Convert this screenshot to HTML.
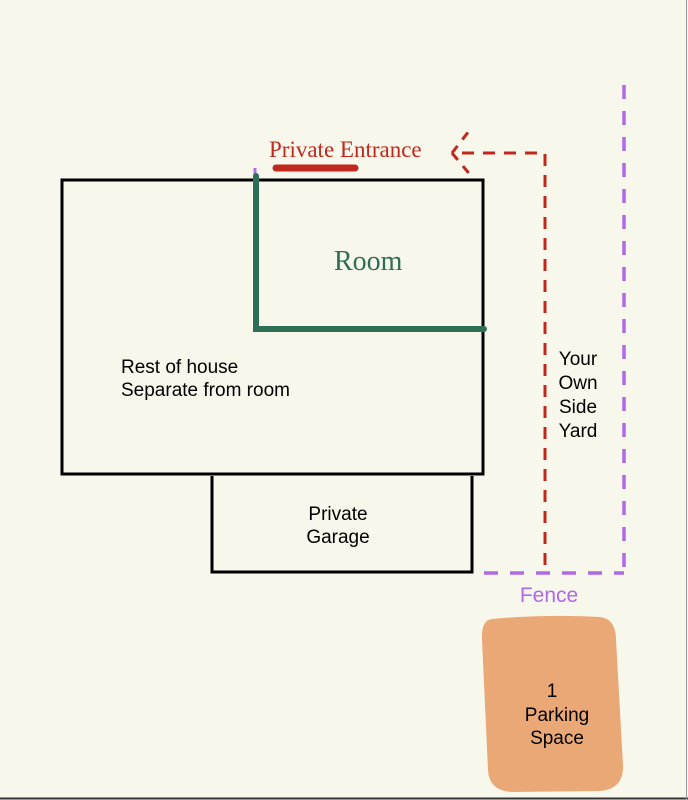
<!DOCTYPE html>
<html><head><style>
html,body{margin:0;padding:0;background:#f8f7ec;}
body{width:688px;height:800px;overflow:hidden;position:relative;}
svg{position:absolute;left:0;top:0;}
</style></head><body>
<svg width="688" height="800" viewBox="0 0 688 800" xmlns="http://www.w3.org/2000/svg">
<rect x="0" y="0" width="688" height="800" fill="#f8f7ec"/>
<line x1="0" y1="798.5" x2="688" y2="798.5" stroke="#333" stroke-width="2"/>
<line x1="686.5" y1="0" x2="686.5" y2="800" stroke="#999" stroke-width="1"/>
<rect x="62" y="180" width="421" height="294" fill="none" stroke="#000" stroke-width="3"/>
<polyline points="212,476 212,572 472,572 472,476" fill="none" stroke="#000" stroke-width="3"/>
<line x1="255" y1="168" x2="255" y2="176" stroke="#b070e0" stroke-width="3"/>
<polyline points="256,176 256,329 484,329" fill="none" stroke="#2f6e56" stroke-width="6" stroke-linecap="round"/>
<line x1="276" y1="168" x2="355" y2="168" stroke="#c0281e" stroke-width="7" stroke-linecap="round"/>
<polyline points="545,565 545,153 452,153" fill="none" stroke="#c0281e" stroke-width="3" stroke-dasharray="12,9"/>
<line x1="452" y1="153" x2="469" y2="131" stroke="#c0281e" stroke-width="3" stroke-dasharray="9,8"/>
<line x1="452" y1="153" x2="472" y2="177" stroke="#c0281e" stroke-width="3" stroke-dasharray="9,8"/>
<line x1="624" y1="85" x2="624" y2="573" stroke="#b068e8" stroke-width="3.5" stroke-dasharray="14,12"/>
<line x1="484" y1="573" x2="624" y2="573" stroke="#b068e8" stroke-width="3.5" stroke-dasharray="14,12"/>
<path d="M492,619 Q545,614 600,617 Q616,619 616,640 L623,765 Q624,789 600,791 L512,792 Q489,791 488,770 L482,640 Q481,620 492,619 Z" fill="#eaa877"/>
<g font-family="Liberation Serif, serif">
<text x="269" y="157" font-size="23" fill="#c0281e">Private Entrance</text>
<text x="334" y="270" font-size="28" fill="#2f6e56">Room</text>
</g>
<g font-family="Liberation Sans, sans-serif" font-size="19" fill="#000">
<text x="121" y="373">Rest of house</text>
<text x="121" y="396">Separate from room</text>
<text x="338" y="520" text-anchor="middle">Private</text>
<text x="338" y="543" text-anchor="middle">Garage</text>
<text x="578" y="365" text-anchor="middle">Your</text>
<text x="578" y="389" text-anchor="middle">Own</text>
<text x="578" y="413" text-anchor="middle">Side</text>
<text x="578" y="437" text-anchor="middle">Yard</text>
<text x="549" y="602" text-anchor="middle" font-size="21" fill="#b068e8">Fence</text>
<text x="552" y="697" text-anchor="middle">1</text>
<text x="557" y="721" text-anchor="middle">Parking</text>
<text x="557" y="744" text-anchor="middle">Space</text>
</g>
</svg>
</body></html>
